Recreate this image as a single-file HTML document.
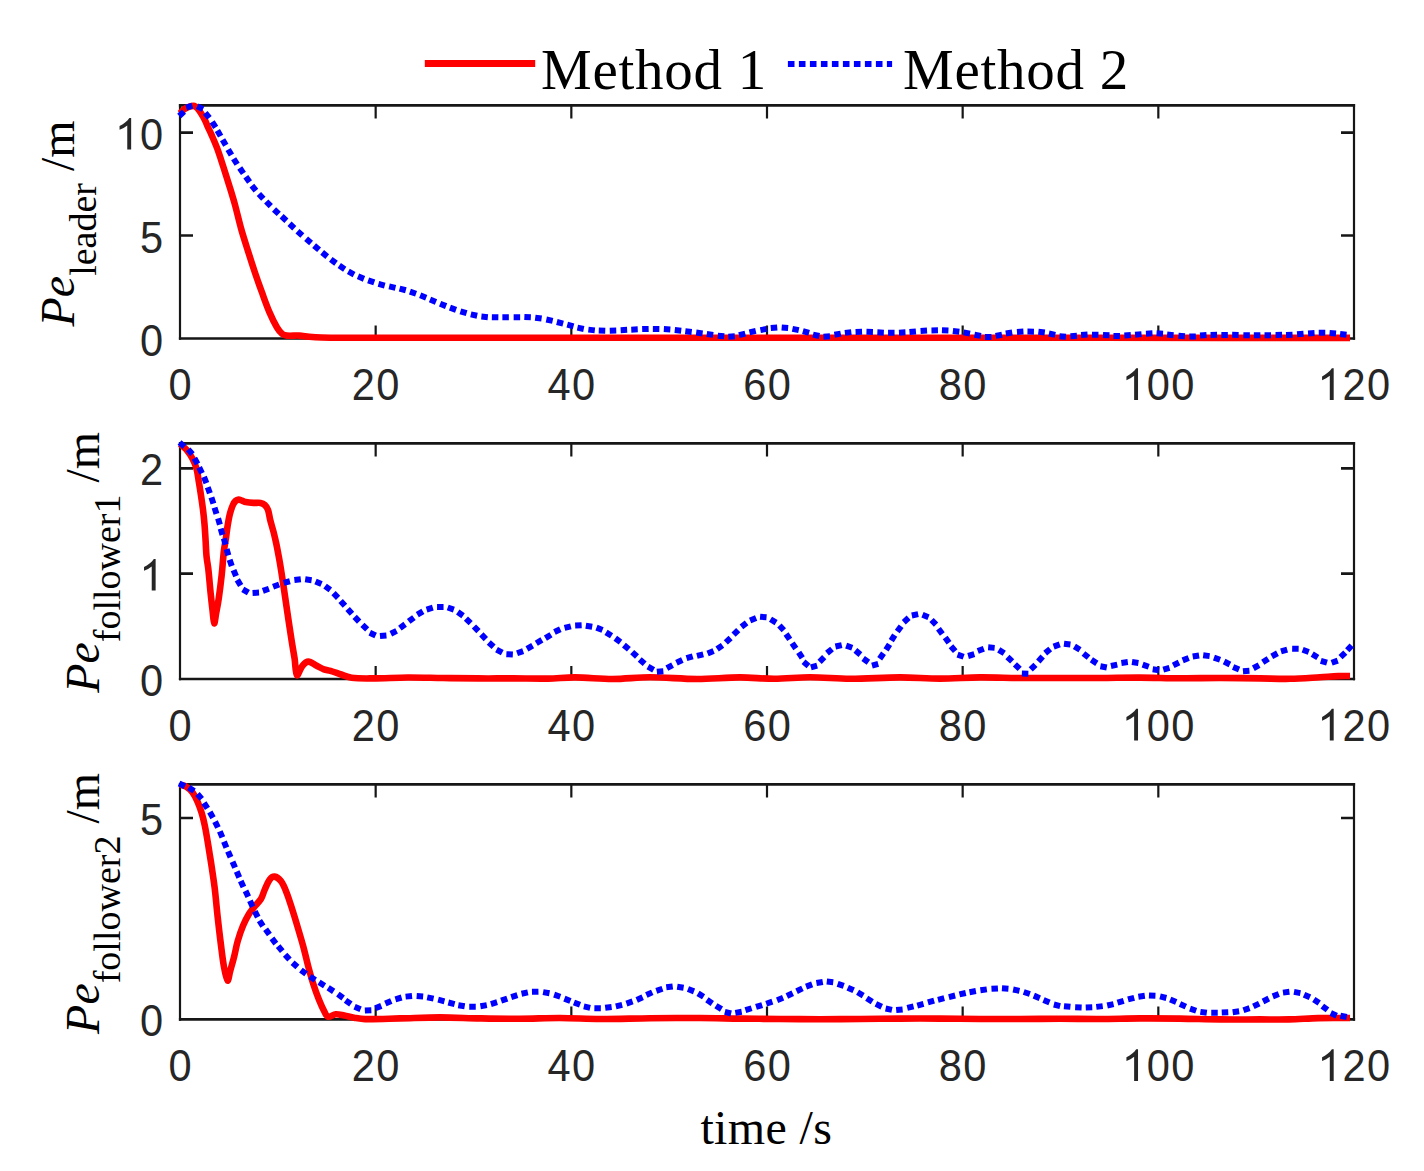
<!DOCTYPE html>
<html><head><meta charset="utf-8"><style>html,body{margin:0;padding:0;background:#fff;}svg{display:block;}</style></head><body>
<svg xmlns="http://www.w3.org/2000/svg" width="1424" height="1171" viewBox="0 0 1424 1171">
<rect width="1424" height="1171" fill="#fff"/>
<path d="M178.90 105.40H1355.10M178.90 338.50H1355.10" stroke="#161616" stroke-width="2.6"/>
<path d="M180.00 104.10V339.80M1354.00 104.10V339.80" stroke="#161616" stroke-width="2.2"/>
<path d="M375.67 338.50V325.50M375.67 105.40V118.40M571.33 338.50V325.50M571.33 105.40V118.40M767.00 338.50V325.50M767.00 105.40V118.40M962.67 338.50V325.50M962.67 105.40V118.40M1158.33 338.50V325.50M1158.33 105.40V118.40" stroke="#161616" stroke-width="2.2"/>
<path d="M180.00 235.50H193.00M1354.00 235.50H1341.00M180.00 132.60H193.00M1354.00 132.60H1341.00" stroke="#161616" stroke-width="2.6"/>
<clipPath id="c105"><rect x="176.0" y="97.4" width="1182.0" height="249.1"/></clipPath>
<g clip-path="url(#c105)" fill="none" stroke-linejoin="round">
<path d="M180.00 113.30 C181.37 111.97 182.56 110.39 184.10 109.30 C185.72 108.15 187.61 107.21 189.50 106.60 C191.04 106.11 192.94 105.60 194.40 106.00 C195.77 106.37 196.97 107.78 198.00 108.90 C199.23 110.24 200.23 111.84 201.20 113.40 C202.57 115.60 203.85 117.87 205.00 120.20 C206.09 122.41 206.90 124.75 207.90 127.00 C208.93 129.32 210.09 131.57 211.10 133.90 C213.16 138.64 215.30 143.36 217.10 148.20 C219.40 154.39 221.36 160.72 223.40 167.00 C225.42 173.22 227.38 179.45 229.30 185.70 C231.22 191.95 233.17 198.20 234.90 204.50 C237.13 212.63 238.92 220.89 241.20 229.00 C243.25 236.29 245.62 243.48 247.90 250.70 C250.06 257.55 252.21 264.40 254.50 271.20 C256.81 278.06 259.22 284.90 261.70 291.70 C264.19 298.53 266.55 305.42 269.40 312.10 C271.65 317.36 274.11 322.60 277.00 327.50 C278.41 329.90 280.21 332.29 282.30 334.00 C283.51 334.99 285.30 335.45 286.90 335.60 C290.97 335.98 295.18 335.38 299.30 335.60 C302.61 335.78 305.89 336.52 309.20 336.80 C313.32 337.15 317.46 337.40 321.60 337.50 C329.40 337.70 337.20 337.69 345.00 337.70 C396.67 337.79 448.33 337.79 500.00 337.80 C600.00 337.82 700.00 337.80 800.00 337.80 C900.00 337.80 1000.00 337.78 1100.00 337.80 C1183.33 337.82 1266.67 337.87 1350.00 337.90" stroke="#ff0000" stroke-width="6.6" stroke-linecap="butt"/>
<path d="M179.21 116.00L183.99 111.60M186.21 107.72L192.39 105.68M197.17 106.29L203.03 109.11M205.24 112.88L209.36 117.92M212.12 121.88L215.68 127.32M217.38 130.48L220.62 136.12M222.59 139.67L225.81 145.33M228.15 149.50L231.45 155.10M233.65 158.76L237.15 164.24M239.76 168.02L243.44 173.38M245.82 176.75L249.58 182.05M251.88 185.55L255.92 190.65M258.89 193.92L263.31 198.68M266.21 201.49L270.79 206.11M274.04 209.46L278.76 213.94M281.61 216.30L286.39 220.70M289.53 223.78L294.27 228.22M297.47 231.24L302.33 235.56M306.13 238.79L311.07 243.01M314.12 245.60L319.08 249.80M322.17 252.46L327.23 256.54M330.79 259.36L336.01 263.24M339.28 265.61L344.72 269.19M348.34 271.46L354.06 274.54M358.00 276.34L364.00 278.86M368.13 280.34L374.27 282.46M378.46 283.85L384.74 285.55M389.13 286.39L395.47 287.81M399.56 288.55L405.84 290.25M409.93 291.64L416.07 293.76M420.18 295.29L426.22 297.71M430.01 299.44L435.99 301.96M440.09 303.68L446.11 306.12M449.94 307.69L456.06 309.91M460.39 311.37L466.61 313.23M470.82 314.41L477.18 315.79M481.37 316.58L487.83 317.22M491.85 317.15L498.35 317.25M502.35 317.20L508.85 317.20M513.65 317.20L520.15 317.20M524.35 317.06L530.85 317.34M535.18 317.66L541.62 318.54M546.32 319.51L552.68 320.89M556.85 322.00L563.15 323.60M567.26 324.66L573.54 326.34M577.42 327.63L583.78 328.97M588.37 329.64L594.83 330.36M598.75 330.59L605.25 330.81M609.75 330.80L616.25 330.60M620.66 330.18L627.14 329.82M631.25 329.65L637.75 329.35M642.15 329.08L648.65 328.92M652.85 328.96L659.35 329.04M663.86 329.09L670.34 329.51M674.77 330.05L681.23 330.75M685.27 331.21L691.73 331.99M696.18 332.58L702.62 333.42M706.78 333.95L713.22 334.85M717.77 335.69L724.23 336.31M728.36 336.75L734.84 336.25M738.94 335.14L745.26 333.66M749.43 332.32L755.77 330.88M760.40 330.08L766.80 328.92M770.76 327.97L777.24 327.43M781.66 327.43L788.14 327.97M792.42 328.84L798.78 330.16M802.87 331.22L809.13 332.98M813.02 334.62L819.38 335.98M823.45 336.67L829.95 336.33M834.41 334.80L840.79 333.60M844.87 332.87L851.33 332.13M855.55 331.91L862.05 331.69M866.45 331.70L872.95 331.90M877.35 332.36L883.85 332.64M888.05 332.70L894.55 332.70M898.95 332.64L905.45 332.36M909.46 332.07L915.94 331.53M920.56 330.91L927.04 330.49M931.45 330.45L937.95 330.35M941.95 330.26L948.45 330.54M952.87 330.91L959.33 331.69M963.60 332.41L970.00 333.59M974.50 334.72L980.90 335.88M984.95 336.90L991.45 336.90M995.61 335.90L1001.99 334.70M1005.79 333.52L1012.21 332.48M1016.96 332.01L1023.44 331.59M1027.45 331.55L1033.95 331.65M1038.37 331.71L1044.83 332.49M1048.92 333.54L1055.28 334.86M1059.46 336.23L1065.94 336.77M1070.46 336.25L1076.94 335.75M1081.06 334.98L1087.54 334.62M1091.95 334.76L1098.45 334.84M1102.96 334.92L1109.44 335.28M1113.45 335.97L1119.95 336.03M1124.36 335.54L1130.84 335.06M1135.06 334.67L1141.54 334.13M1145.95 333.64L1152.45 333.36M1156.56 333.30L1163.04 333.70M1167.07 334.43L1173.53 335.17M1178.46 335.75L1184.94 336.25M1189.35 336.61L1195.85 336.39M1200.06 335.54L1206.54 335.06M1210.55 334.96L1217.05 334.84M1221.35 334.90L1227.85 334.90M1232.15 334.86L1238.65 334.94M1243.35 335.16L1249.85 335.24M1253.85 335.20L1260.35 335.20M1264.55 335.24L1271.05 335.16M1275.55 334.95L1282.05 334.85M1286.05 335.04L1292.55 334.76M1297.06 334.25L1303.54 333.75M1308.05 333.38L1314.55 333.02M1318.75 332.80L1325.25 332.80M1329.56 332.96L1336.04 333.44M1340.07 334.03L1346.53 334.77" stroke="#0000ff" stroke-width="6.0" stroke-linecap="butt"/>
</g>
<g font-family="Liberation Sans" font-size="44" fill="#262626">
<text transform="translate(180.00 400.00) scale(0.945 1.01)" x="-12.24">0</text>
<text transform="translate(363.43 400.00) scale(0.945 1.01)" x="-12.24">2</text><text transform="translate(387.90 400.00) scale(0.945 1.01)" x="-12.24">0</text>
<text transform="translate(559.10 400.00) scale(0.945 1.01)" x="-12.24">4</text><text transform="translate(583.57 400.00) scale(0.945 1.01)" x="-12.24">0</text>
<text transform="translate(754.76 400.00) scale(0.945 1.01)" x="-12.24">6</text><text transform="translate(779.24 400.00) scale(0.945 1.01)" x="-12.24">0</text>
<text transform="translate(950.43 400.00) scale(0.945 1.01)" x="-12.24">8</text><text transform="translate(974.90 400.00) scale(0.945 1.01)" x="-12.24">0</text>
<path transform="translate(1121.63 400.00)" d="M16.4 -31.7L16.4 0L12.5 0L12.5 -24.2C10.2 -22.4 7.6 -20.9 4.8 -19.8L4.8 -23.6C8.6 -25.6 12.4 -28.4 14.6 -31.7Z"/><text transform="translate(1158.33 400.00) scale(0.945 1.01)" x="-12.24">0</text><text transform="translate(1182.80 400.00) scale(0.945 1.01)" x="-12.24">0</text>
<path transform="translate(1317.29 400.00)" d="M16.4 -31.7L16.4 0L12.5 0L12.5 -24.2C10.2 -22.4 7.6 -20.9 4.8 -19.8L4.8 -23.6C8.6 -25.6 12.4 -28.4 14.6 -31.7Z"/><text transform="translate(1354.00 400.00) scale(0.945 1.01)" x="-12.24">2</text><text transform="translate(1378.47 400.00) scale(0.945 1.01)" x="-12.24">0</text>
<text transform="translate(151.46 355.50) scale(0.945 1.01)" x="-12.24">0</text>
<text transform="translate(151.46 252.50) scale(0.945 1.01)" x="-12.24">5</text>
<path transform="translate(114.76 149.60)" d="M16.4 -31.7L16.4 0L12.5 0L12.5 -24.2C10.2 -22.4 7.6 -20.9 4.8 -19.8L4.8 -23.6C8.6 -25.6 12.4 -28.4 14.6 -31.7Z"/><text transform="translate(151.46 149.60) scale(0.945 1.01)" x="-12.24">0</text>
</g>
<text transform="translate(74.00 223.40) rotate(-90)" font-family="Liberation Serif" font-size="48" fill="#000" text-anchor="middle"><tspan font-style="italic">Pe</tspan><tspan font-size="38" dy="22.0">leader</tspan><tspan dy="-22.0"> /m</tspan></text>
<path d="M178.90 443.40H1355.10M178.90 679.00H1355.10" stroke="#161616" stroke-width="2.6"/>
<path d="M180.00 442.10V680.30M1354.00 442.10V680.30" stroke="#161616" stroke-width="2.2"/>
<path d="M375.67 679.00V666.00M375.67 443.40V456.40M571.33 679.00V666.00M571.33 443.40V456.40M767.00 679.00V666.00M767.00 443.40V456.40M962.67 679.00V666.00M962.67 443.40V456.40M1158.33 679.00V666.00M1158.33 443.40V456.40" stroke="#161616" stroke-width="2.2"/>
<path d="M180.00 573.60H193.00M1354.00 573.60H1341.00M180.00 468.40H193.00M1354.00 468.40H1341.00" stroke="#161616" stroke-width="2.6"/>
<clipPath id="c443"><rect x="176.0" y="435.4" width="1182.0" height="251.6"/></clipPath>
<g clip-path="url(#c443)" fill="none" stroke-linejoin="round">
<path d="M180.10 444.10 C182.13 445.83 184.48 447.29 186.20 449.30 C188.58 452.09 190.68 455.25 192.40 458.50 C194.11 461.72 195.52 465.19 196.50 468.70 C197.62 472.69 198.01 476.89 198.70 481.00 C199.51 485.79 200.28 490.59 201.00 495.40 C201.71 500.16 202.42 504.92 203.00 509.70 C203.58 514.49 204.09 519.29 204.50 524.10 C204.96 529.56 205.26 535.03 205.60 540.50 C205.92 545.67 206.01 550.85 206.50 556.00 C206.91 560.32 207.82 564.59 208.30 568.90 C209.19 576.85 209.78 584.84 210.60 592.80 C211.22 598.81 211.89 604.80 212.60 610.80 C213.09 614.97 213.55 622.80 214.20 623.30 C214.72 623.70 215.50 616.77 216.10 613.50 C217.00 608.61 217.99 603.72 218.70 598.80 C219.85 590.86 220.83 582.88 221.70 574.90 C222.57 566.95 222.98 558.94 223.90 551.00 C224.41 546.58 225.35 542.21 226.00 537.80 C226.58 533.84 226.96 529.85 227.60 525.90 C228.26 521.88 228.90 517.84 229.90 513.90 C230.67 510.87 231.66 507.85 232.90 505.00 C233.53 503.55 234.40 502.06 235.50 501.00 C236.26 500.26 237.47 499.66 238.50 499.60 C239.63 499.53 240.85 500.22 242.00 500.60 C243.25 501.02 244.42 501.74 245.70 502.00 C248.25 502.51 250.89 502.74 253.50 502.90 C255.86 503.04 258.33 502.48 260.60 502.90 C262.10 503.18 263.69 503.97 264.80 505.00 C266.16 506.27 267.36 508.02 268.00 509.80 C269.16 512.99 269.36 516.56 270.20 519.90 C271.20 523.89 272.48 527.81 273.50 531.80 C274.52 535.78 275.44 539.78 276.30 543.80 C277.14 547.75 277.87 551.73 278.60 555.70 C279.41 560.09 280.20 564.49 280.90 568.90 C282.17 576.86 283.32 584.83 284.50 592.80 C285.68 600.76 286.82 608.74 288.00 616.70 C289.18 624.67 290.35 632.64 291.60 640.60 C292.55 646.61 293.66 652.59 294.60 658.60 C295.46 664.16 295.42 673.84 297.00 675.30 C298.02 676.24 300.12 668.53 302.40 665.80 C303.92 663.97 306.30 661.60 308.40 661.60 C311.07 661.60 313.92 664.42 316.70 665.80 C319.09 666.99 321.41 668.40 323.90 669.30 C326.01 670.06 328.34 670.15 330.50 670.80 C334.08 671.88 337.55 673.32 341.10 674.50 C344.58 675.66 347.99 677.35 351.60 677.80 C358.52 678.65 365.67 678.44 372.70 678.40 C384.40 678.34 396.10 677.57 407.80 677.50 C419.50 677.43 431.20 677.85 442.90 678.00 C454.60 678.15 466.30 678.33 478.00 678.40 C489.70 678.47 501.40 678.37 513.10 678.40 C524.80 678.43 536.50 678.79 548.20 678.60 C557.14 678.46 566.07 677.34 575.00 677.40 C587.57 677.48 600.13 679.02 612.70 679.00 C625.13 678.98 637.56 677.30 650.00 677.30 C665.66 677.30 681.33 678.98 697.00 679.00 C711.33 679.02 725.67 677.44 740.00 677.40 C751.40 677.37 762.80 678.83 774.20 678.80 C786.13 678.77 798.07 677.20 810.00 677.20 C823.33 677.20 836.66 678.77 850.00 678.80 C866.66 678.84 883.33 677.44 900.00 677.40 C913.33 677.37 926.67 678.60 940.00 678.60 C953.33 678.60 966.66 677.50 980.00 677.40 C993.33 677.30 1006.67 677.90 1020.00 678.00 C1033.33 678.10 1046.67 678.00 1060.00 678.00 C1073.33 678.00 1086.67 678.07 1100.00 678.00 C1113.33 677.93 1126.67 677.55 1140.00 677.60 C1153.33 677.65 1166.67 678.23 1180.00 678.30 C1193.33 678.37 1206.67 677.98 1220.00 678.00 C1233.33 678.02 1246.67 678.25 1260.00 678.40 C1270.00 678.51 1280.01 678.98 1290.00 678.80 C1300.01 678.62 1310.00 677.86 1320.00 677.30 C1326.00 676.96 1331.99 676.36 1338.00 676.10 C1341.99 675.93 1346.00 676.03 1350.00 676.00" stroke="#ff0000" stroke-width="6.6" stroke-linecap="butt"/>
<path d="M179.54 442.47L184.46 446.73M188.20 449.32L192.40 454.28M194.42 458.26L197.58 463.94M199.18 467.38L202.02 473.22M203.97 476.99L206.43 483.01M207.72 487.23L209.88 493.37M211.39 497.41L213.41 503.59M214.53 507.70L216.47 513.90M218.09 518.38L219.91 524.62M220.71 528.67L222.49 534.93M223.80 538.38L225.60 544.62M226.62 549.07L228.38 555.33M229.63 559.83L231.77 565.97M233.54 570.10L236.06 576.10M237.32 579.92L240.68 585.48M242.81 589.33L248.39 592.67M252.56 592.99L259.04 592.61M262.84 590.89L268.96 588.71M273.05 586.72L279.15 584.48M283.67 582.96L289.93 581.24M294.37 580.06L300.83 579.34M305.18 579.24L311.62 580.16M315.51 581.42L321.49 583.98M325.09 586.07L330.31 589.93M333.52 593.18L338.08 597.82M340.64 600.97L344.96 605.83M347.64 608.88L351.96 613.72M354.66 616.84L359.14 621.56M362.44 624.87L367.16 629.33M369.76 632.71L375.64 635.49M379.96 636.08L386.44 635.52M390.79 633.75L396.61 630.85M399.87 628.11L405.13 624.29M408.70 621.45L413.90 617.55M417.30 614.66L422.90 611.34M426.59 609.54L432.81 607.66M437.05 606.90L443.55 606.90M447.73 607.53L453.87 609.67M457.74 612.03L463.06 615.77M465.94 618.67L470.66 623.13M473.94 626.47L478.46 631.13M481.36 634.34L485.84 639.06M488.80 642.41L493.60 646.79M496.53 649.58L502.27 652.62M506.35 654.13L512.85 654.47M517.03 653.28L523.17 651.12M526.96 648.78L532.64 645.62M536.30 643.25L541.90 639.95M545.41 638.07L550.99 634.73M554.47 632.00L560.33 629.20M564.55 627.90L570.85 626.30M575.15 625.44L581.65 625.16M585.79 625.67L592.21 626.73M596.48 627.60L602.52 630.00M606.04 632.39L611.56 635.81M615.29 638.26L620.51 642.14M623.92 645.10L628.88 649.30M632.20 652.11L637.00 656.49M639.74 659.47L644.66 663.73M647.96 666.73L653.64 669.87M656.86 671.79L663.34 671.21M666.83 668.12L672.57 665.08M676.46 662.68L682.34 659.92M686.49 658.23L692.71 656.37M696.94 655.87L703.26 654.33M707.58 653.41L713.62 650.99M717.11 649.03L722.49 645.37M725.81 642.41L730.59 637.99M733.57 634.57L738.23 630.03M741.41 626.77L746.59 622.83M750.09 620.42L756.11 617.98M760.06 616.73L766.54 617.27M770.51 619.24L776.09 622.56M779.39 625.51L783.81 630.29M786.05 634.03L789.75 639.37M792.16 643.12L795.84 648.48M798.70 652.39L802.30 657.81M803.53 661.79L808.47 666.01M810.87 667.47L817.13 665.73M819.60 661.80L824.20 657.20M826.99 653.16L832.01 649.04M835.43 646.51L841.77 645.09M846.13 645.63L852.27 647.77M855.39 650.43L860.41 654.57M863.16 658.51L868.44 662.29M871.97 665.67L878.23 663.93M879.70 658.64L883.50 653.36M886.07 649.95L889.53 644.45M891.29 640.66L894.71 635.14M897.27 631.42L901.13 626.18M903.77 622.16L908.63 617.84M911.82 615.46L918.18 614.14M922.48 614.80L928.52 617.20M931.54 619.96L936.06 624.64M938.46 628.79L942.34 634.01M945.18 637.58L949.02 642.82M950.97 646.25L955.23 651.15M957.54 654.62L963.66 656.78M968.08 656.00L974.32 654.20M977.75 651.03L983.85 648.77M988.16 647.33L994.64 647.87M998.75 649.87L1004.25 653.33M1007.44 656.96L1012.16 661.44M1014.93 664.37L1019.67 668.83M1021.85 673.50L1028.35 673.70M1030.74 669.34L1035.46 664.86M1038.31 661.40L1042.69 656.60M1045.20 653.18L1050.20 649.02M1053.64 646.60L1059.76 644.40M1063.98 643.69L1070.42 644.51M1074.42 646.41L1079.98 649.79M1083.46 653.47L1088.54 657.53M1091.37 659.83L1096.83 663.37M1100.40 666.31L1106.80 667.49M1110.92 665.97L1117.28 664.63M1121.38 662.93L1127.82 662.07M1131.99 662.01L1138.41 662.99M1142.63 664.63L1148.77 666.77M1152.69 669.22L1159.11 670.18M1163.28 669.70L1169.52 667.90M1173.19 665.35L1179.01 662.45M1182.68 660.40L1188.72 658.00M1192.70 656.54L1199.10 655.46M1203.18 655.29L1209.62 656.11M1213.94 657.61L1220.06 659.79M1224.10 661.54L1229.90 664.46M1233.09 667.06L1239.11 669.54M1242.96 671.16L1249.44 670.64M1253.34 668.24L1259.06 665.16M1262.77 662.26L1268.23 658.74M1271.74 656.34L1277.46 653.26M1280.98 651.41L1287.22 649.59M1292.15 648.64L1298.65 648.76M1302.64 649.79L1308.76 652.01M1312.21 654.14L1317.79 657.46M1320.79 660.77L1327.01 662.63M1331.64 662.80L1337.76 660.60M1340.53 657.12L1345.27 652.68M1347.29 650.18L1351.71 645.42" stroke="#0000ff" stroke-width="6.0" stroke-linecap="butt"/>
</g>
<g font-family="Liberation Sans" font-size="44" fill="#262626">
<text transform="translate(180.00 740.50) scale(0.945 1.01)" x="-12.24">0</text>
<text transform="translate(363.43 740.50) scale(0.945 1.01)" x="-12.24">2</text><text transform="translate(387.90 740.50) scale(0.945 1.01)" x="-12.24">0</text>
<text transform="translate(559.10 740.50) scale(0.945 1.01)" x="-12.24">4</text><text transform="translate(583.57 740.50) scale(0.945 1.01)" x="-12.24">0</text>
<text transform="translate(754.76 740.50) scale(0.945 1.01)" x="-12.24">6</text><text transform="translate(779.24 740.50) scale(0.945 1.01)" x="-12.24">0</text>
<text transform="translate(950.43 740.50) scale(0.945 1.01)" x="-12.24">8</text><text transform="translate(974.90 740.50) scale(0.945 1.01)" x="-12.24">0</text>
<path transform="translate(1121.63 740.50)" d="M16.4 -31.7L16.4 0L12.5 0L12.5 -24.2C10.2 -22.4 7.6 -20.9 4.8 -19.8L4.8 -23.6C8.6 -25.6 12.4 -28.4 14.6 -31.7Z"/><text transform="translate(1158.33 740.50) scale(0.945 1.01)" x="-12.24">0</text><text transform="translate(1182.80 740.50) scale(0.945 1.01)" x="-12.24">0</text>
<path transform="translate(1317.29 740.50)" d="M16.4 -31.7L16.4 0L12.5 0L12.5 -24.2C10.2 -22.4 7.6 -20.9 4.8 -19.8L4.8 -23.6C8.6 -25.6 12.4 -28.4 14.6 -31.7Z"/><text transform="translate(1354.00 740.50) scale(0.945 1.01)" x="-12.24">2</text><text transform="translate(1378.47 740.50) scale(0.945 1.01)" x="-12.24">0</text>
<text transform="translate(151.46 696.00) scale(0.945 1.01)" x="-12.24">0</text>
<path transform="translate(139.23 590.60)" d="M16.4 -31.7L16.4 0L12.5 0L12.5 -24.2C10.2 -22.4 7.6 -20.9 4.8 -19.8L4.8 -23.6C8.6 -25.6 12.4 -28.4 14.6 -31.7Z"/>
<text transform="translate(151.46 485.40) scale(0.945 1.01)" x="-12.24">2</text>
</g>
<text transform="translate(99.00 562.35) rotate(-90)" font-family="Liberation Serif" font-size="48" fill="#000" text-anchor="middle"><tspan font-style="italic">Pe</tspan><tspan font-size="38" dy="20.7">follower1</tspan><tspan dy="-20.7"> /m</tspan></text>
<path d="M178.90 784.40H1355.10M178.90 1019.40H1355.10" stroke="#161616" stroke-width="2.6"/>
<path d="M180.00 783.10V1020.70M1354.00 783.10V1020.70" stroke="#161616" stroke-width="2.2"/>
<path d="M375.67 1019.40V1006.40M375.67 784.40V797.40M571.33 1019.40V1006.40M571.33 784.40V797.40M767.00 1019.40V1006.40M767.00 784.40V797.40M962.67 1019.40V1006.40M962.67 784.40V797.40M1158.33 1019.40V1006.40M1158.33 784.40V797.40" stroke="#161616" stroke-width="2.2"/>
<path d="M180.00 818.00H193.00M1354.00 818.00H1341.00" stroke="#161616" stroke-width="2.6"/>
<clipPath id="c784"><rect x="176.0" y="776.4" width="1182.0" height="251.0"/></clipPath>
<g clip-path="url(#c784)" fill="none" stroke-linejoin="round">
<path d="M180.10 784.70 C182.13 785.37 184.42 785.60 186.20 786.70 C188.52 788.13 190.74 790.11 192.40 792.30 C194.51 795.08 196.06 798.38 197.50 801.60 C199.12 805.22 200.44 809.00 201.60 812.80 C202.84 816.84 203.82 820.97 204.70 825.10 C205.72 829.87 206.48 834.69 207.30 839.50 C208.18 844.63 208.98 849.76 209.80 854.90 C210.45 858.93 211.11 862.96 211.70 867.00 C212.74 874.06 213.85 881.11 214.70 888.20 C215.82 897.55 216.57 906.94 217.60 916.30 C218.64 925.71 219.71 935.11 220.90 944.50 C221.85 952.01 222.62 959.57 224.00 967.00 C224.85 971.60 226.39 979.63 227.60 980.60 C228.39 981.23 229.20 974.73 230.00 971.80 C231.40 966.67 232.91 961.56 234.20 956.40 C235.47 951.33 236.26 946.12 237.70 941.10 C239.19 935.89 240.93 930.71 243.00 925.70 C244.63 921.74 246.59 917.86 248.80 914.20 C250.46 911.46 252.60 909.01 254.60 906.50 C256.70 903.88 259.38 901.64 261.10 898.80 C262.71 896.14 263.32 892.88 264.60 890.00 C266.15 886.52 267.40 882.65 269.60 879.70 C270.73 878.18 272.97 876.40 274.60 876.60 C276.74 876.87 279.39 879.10 280.90 881.10 C283.36 884.36 284.94 888.51 286.50 892.40 C288.71 897.91 290.38 903.64 292.20 909.30 C294.15 915.37 295.98 921.49 297.80 927.60 C299.75 934.15 301.72 940.70 303.50 947.30 C305.26 953.83 306.65 960.46 308.40 967.00 C309.92 972.66 311.49 978.32 313.30 983.90 C314.99 989.12 316.85 994.31 318.90 999.40 C320.62 1003.67 322.45 1007.94 324.60 1012.00 C325.52 1013.74 326.52 1016.49 328.10 1016.80 C330.26 1017.22 333.18 1014.39 335.80 1014.20 C338.58 1013.99 341.48 1015.06 344.30 1015.60 C347.61 1016.23 350.88 1017.14 354.20 1017.70 C357.78 1018.30 361.38 1019.04 365.00 1019.10 C376.64 1019.28 388.33 1018.66 400.00 1018.40 C413.33 1018.10 426.67 1017.40 440.00 1017.40 C453.33 1017.40 466.66 1018.17 480.00 1018.40 C493.33 1018.63 506.67 1018.87 520.00 1018.80 C533.33 1018.73 546.67 1017.97 560.00 1018.00 C573.33 1018.03 586.67 1018.97 600.00 1019.00 C616.67 1019.04 633.33 1018.37 650.00 1018.20 C666.67 1018.03 683.33 1017.93 700.00 1018.00 C713.33 1018.06 726.67 1018.43 740.00 1018.60 C753.33 1018.77 766.67 1018.90 780.00 1019.00 C793.33 1019.10 806.67 1019.20 820.00 1019.20 C833.33 1019.20 846.67 1019.10 860.00 1019.00 C873.33 1018.90 886.67 1018.67 900.00 1018.60 C913.33 1018.53 926.67 1018.53 940.00 1018.60 C953.33 1018.67 966.67 1018.93 980.00 1019.00 C993.33 1019.07 1006.67 1019.03 1020.00 1019.00 C1033.33 1018.97 1046.67 1018.80 1060.00 1018.80 C1073.33 1018.80 1086.67 1019.07 1100.00 1019.00 C1113.33 1018.93 1126.67 1018.47 1140.00 1018.40 C1153.33 1018.33 1166.67 1018.43 1180.00 1018.60 C1193.33 1018.77 1206.67 1019.27 1220.00 1019.40 C1233.33 1019.53 1246.67 1019.40 1260.00 1019.40 C1269.67 1019.40 1279.34 1019.61 1289.00 1019.40 C1298.84 1019.18 1308.66 1018.33 1318.50 1018.10 C1329.00 1017.86 1339.50 1018.03 1350.00 1018.00" stroke="#ff0000" stroke-width="6.6" stroke-linecap="butt"/>
<path d="M179.06 783.52L184.94 786.28M188.68 787.52L194.12 791.08M197.46 793.95L201.74 798.85M203.95 802.96L207.45 808.44M209.79 812.08L213.01 817.72M215.05 821.69L217.95 827.51M219.80 831.42L222.40 837.38M223.96 841.60L226.44 847.60M228.02 851.31L230.58 857.29M232.51 861.72L235.09 867.68M236.72 871.51L239.28 877.49M240.74 881.05L243.46 886.95M245.52 890.86L248.28 896.74M249.94 900.75L252.66 906.65M254.84 911.30L257.76 917.10M259.46 920.66L262.94 926.14M265.60 929.16L269.40 934.44M271.95 938.40L275.85 943.60M278.13 946.20L282.27 951.20M285.11 954.80L289.49 959.60M292.60 962.71L297.40 967.09M300.91 970.03L306.09 973.97M309.88 976.52L315.32 980.08M319.03 982.29L324.57 985.71M328.17 987.83L333.63 991.37M337.87 994.19L343.13 998.01M345.53 1000.34L350.87 1004.06M354.59 1006.77L360.61 1009.23M364.85 1010.44L371.35 1010.16M375.28 1008.31L381.32 1005.89M385.32 1003.49L391.28 1000.91M395.38 999.30L401.62 997.50M405.57 996.62L412.03 995.98M416.66 996.05L423.14 996.55M427.21 997.37L433.59 998.63M438.15 999.71L444.45 1001.29M448.35 1002.49L454.65 1004.11M458.29 1005.17L464.71 1006.23M469.25 1006.80L475.75 1006.80M480.40 1006.25L486.80 1005.15M490.88 1004.02L497.12 1002.18M501.13 1000.66L507.27 998.54M511.20 997.08L517.40 995.12M521.52 993.77L527.88 992.43M531.95 991.76L538.45 991.64M543.10 992.12L549.50 993.28M554.12 994.66L560.28 996.74M564.38 998.60L570.42 1001.00M573.95 1002.47L580.05 1004.73M583.83 1006.38L590.17 1007.82M594.35 1008.25L600.85 1008.35M605.18 1007.81L611.62 1006.99M615.83 1006.34L622.17 1004.86M626.42 1003.54L632.58 1001.46M636.73 999.92L642.67 997.28M646.33 995.03L652.27 992.37M656.32 990.84L662.48 988.76M666.27 987.30L672.73 986.50M677.19 986.71L683.61 987.69M687.97 989.03L694.03 991.37M698.03 993.40L703.57 996.80M706.92 999.76L712.28 1003.44M715.92 1005.72L721.48 1009.08M724.85 1011.92L731.15 1013.48M735.30 1012.85L741.70 1011.75M745.39 1010.15L751.61 1008.25M756.00 1006.97L762.20 1005.03M766.22 1003.73L772.38 1001.67M777.08 1000.19L783.12 997.81M786.86 995.99L792.74 993.21M796.56 991.19L802.44 988.41M806.05 986.61L812.15 984.39M816.40 983.05L822.80 981.95M826.77 981.53L833.23 982.27M837.63 983.85L843.77 985.95M847.74 987.65L853.66 990.35M857.59 992.26L863.21 995.54M866.74 998.29L872.26 1001.71M875.87 1003.90L881.73 1006.70M885.62 1008.52L891.98 1009.88M896.17 1010.01L902.63 1009.39M907.24 1007.84L913.56 1006.36M917.26 1005.64L923.54 1003.96M927.87 1002.48L934.13 1000.72M937.95 999.80L944.25 998.20M948.84 997.08L955.16 995.52M959.43 994.42L965.77 992.98M969.50 992.19L975.90 991.01M980.38 990.24L986.82 989.36M991.46 988.78L997.94 988.42M1001.96 988.36L1008.44 988.84M1013.12 989.55L1019.48 990.85M1023.71 991.99L1029.89 994.01M1033.80 995.64L1039.80 998.16M1043.50 1000.05L1049.50 1002.55M1053.85 1004.51L1060.15 1006.09M1063.97 1006.18L1070.43 1006.82M1075.15 1007.27L1081.65 1007.53M1085.75 1007.54L1092.25 1007.26M1096.27 1006.89L1102.73 1006.11M1107.23 1005.51L1113.57 1004.09M1117.49 1002.73L1123.71 1000.87M1127.96 999.42L1134.24 997.78M1138.38 996.76L1144.82 995.84M1148.95 995.46L1155.45 995.74M1160.04 996.43L1166.36 997.97M1170.19 999.46L1176.21 1001.94M1179.94 1003.96L1185.86 1006.64M1190.02 1008.66L1196.18 1010.74M1200.38 1011.85L1206.82 1012.75M1211.25 1012.70L1217.75 1012.70M1221.75 1012.44L1228.25 1012.16M1232.68 1012.26L1239.12 1011.34M1243.42 1010.23L1249.58 1008.17M1253.36 1006.39L1259.24 1003.61M1263.00 1001.46L1268.80 998.54M1272.77 996.37L1278.83 994.03M1282.98 992.61L1289.42 991.79M1294.00 991.92L1300.40 993.08M1304.04 994.65L1309.96 997.35M1313.80 999.49L1319.20 1003.11M1322.31 1006.03L1327.49 1009.97M1330.74 1013.07L1336.66 1015.73M1340.41 1015.76L1346.79 1017.04" stroke="#0000ff" stroke-width="6.0" stroke-linecap="butt"/>
</g>
<g font-family="Liberation Sans" font-size="44" fill="#262626">
<text transform="translate(180.00 1080.90) scale(0.945 1.01)" x="-12.24">0</text>
<text transform="translate(363.43 1080.90) scale(0.945 1.01)" x="-12.24">2</text><text transform="translate(387.90 1080.90) scale(0.945 1.01)" x="-12.24">0</text>
<text transform="translate(559.10 1080.90) scale(0.945 1.01)" x="-12.24">4</text><text transform="translate(583.57 1080.90) scale(0.945 1.01)" x="-12.24">0</text>
<text transform="translate(754.76 1080.90) scale(0.945 1.01)" x="-12.24">6</text><text transform="translate(779.24 1080.90) scale(0.945 1.01)" x="-12.24">0</text>
<text transform="translate(950.43 1080.90) scale(0.945 1.01)" x="-12.24">8</text><text transform="translate(974.90 1080.90) scale(0.945 1.01)" x="-12.24">0</text>
<path transform="translate(1121.63 1080.90)" d="M16.4 -31.7L16.4 0L12.5 0L12.5 -24.2C10.2 -22.4 7.6 -20.9 4.8 -19.8L4.8 -23.6C8.6 -25.6 12.4 -28.4 14.6 -31.7Z"/><text transform="translate(1158.33 1080.90) scale(0.945 1.01)" x="-12.24">0</text><text transform="translate(1182.80 1080.90) scale(0.945 1.01)" x="-12.24">0</text>
<path transform="translate(1317.29 1080.90)" d="M16.4 -31.7L16.4 0L12.5 0L12.5 -24.2C10.2 -22.4 7.6 -20.9 4.8 -19.8L4.8 -23.6C8.6 -25.6 12.4 -28.4 14.6 -31.7Z"/><text transform="translate(1354.00 1080.90) scale(0.945 1.01)" x="-12.24">2</text><text transform="translate(1378.47 1080.90) scale(0.945 1.01)" x="-12.24">0</text>
<text transform="translate(151.46 1036.40) scale(0.945 1.01)" x="-12.24">0</text>
<text transform="translate(151.46 835.00) scale(0.945 1.01)" x="-12.24">5</text>
</g>
<text transform="translate(99.00 903.40) rotate(-90)" font-family="Liberation Serif" font-size="48" fill="#000" text-anchor="middle"><tspan font-style="italic">Pe</tspan><tspan font-size="38" dy="20.7">follower2</tspan><tspan dy="-20.7"> /m</tspan></text>
<path d="M424.8 63.45H535.2" stroke="#ff0000" stroke-width="7"/>
<path d="M787.9 64.0H892.1" stroke="#0000ff" stroke-width="6" stroke-dasharray="6.6 4.4"/>
<g font-family="Liberation Serif" font-size="57" fill="#000" letter-spacing="0.75">
<text x="541" y="89.2">Method 1</text>
<text x="903" y="89.2">Method 2</text>
</g>
<text x="766.3" y="1144.3" font-family="Liberation Serif" font-size="48" fill="#000" text-anchor="middle" letter-spacing="0.35">time /s</text>
</svg></body></html>
